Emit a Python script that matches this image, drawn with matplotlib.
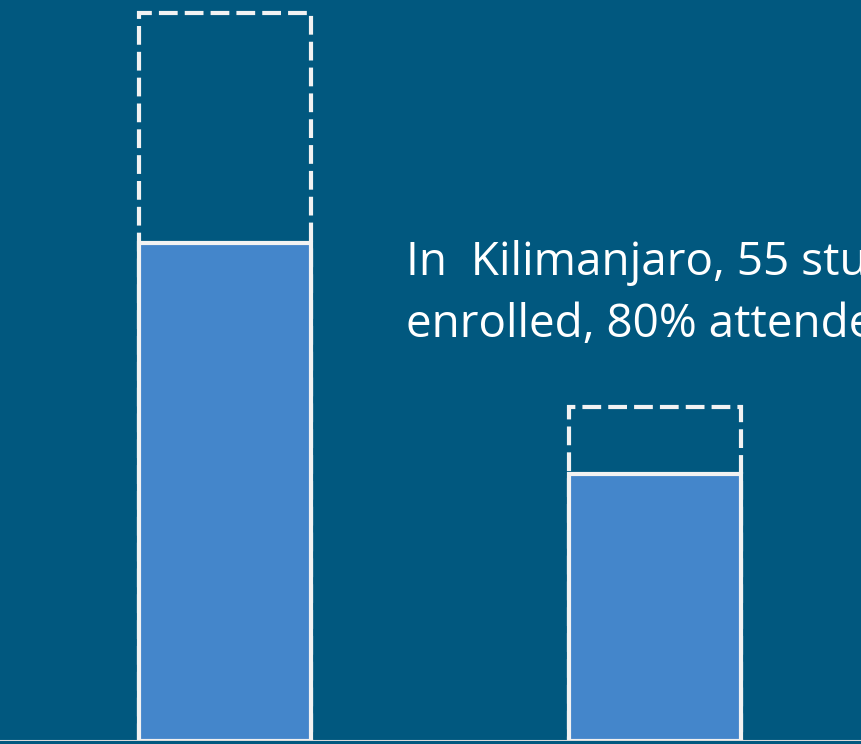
import matplotlib
matplotlib.use("Agg")
import matplotlib.pyplot as plt

# students per site: enrolled (dashed outline) and attended (filled)
sites = ["Site A", "Kilimanjaro"]
enrolled = [120, 55]
attended = [82, 44]
note_lines = ["In  Kilimanjaro, 55 students", "enrolled, 80% attended"]

bg = "#01587F"
fill = "#4486CB"
edge = "#F2F2F2"

fig = plt.figure(figsize=(8.62, 7.44), dpi=100, facecolor=bg)
ax = fig.add_axes([0, 3 / 744, 1, 741 / 744])
ax.set_facecolor(bg)

x = range(len(sites))
ax.bar(x, enrolled, width=0.4, color="none", edgecolor=edge, linewidth=3,
       linestyle=(0, (4.5, 1.7)), zorder=2)
ax.bar(x, attended, width=0.4, color=fill, edgecolor=edge, linewidth=3, zorder=3)
ax.axhline(0, color="#D9D9D9", linewidth=1.5, zorder=4)

ax.set_xlim(-225 / 430, 1 + 207 / 430)
ax.set_ylim(0, 741 / 6.07)
ax.axis("off")

# annotation, one text per line so the line gap is fixed in pixels
for i, line in enumerate(note_lines):
    fig.text(406 / 862, 1 - (275 + 62 * i) / 744, line, color="white",
             fontsize=33, family="Open Sans", ha="left", va="baseline")

fig.savefig("out.png", dpi=100, facecolor=bg)
